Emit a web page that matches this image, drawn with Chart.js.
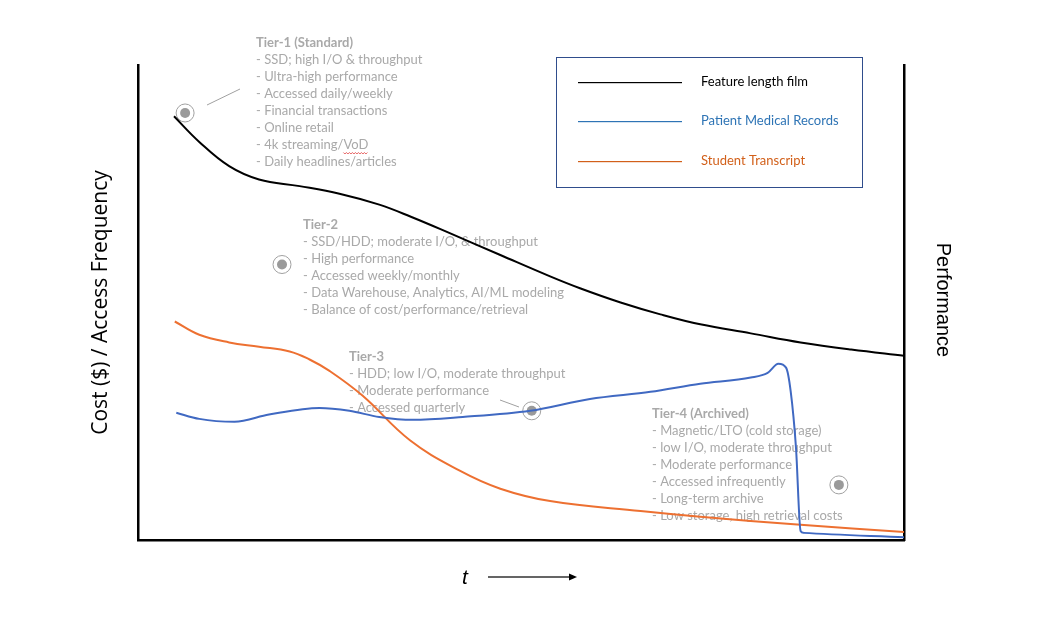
<!DOCTYPE html>
<html>
<head>
<meta charset="utf-8">
<script src="https://cdn.jsdelivr.net/npm/chart.js@4/dist/chart.umd.min.js"></script>
<style>
  html, body { margin: 0; padding: 0; background: #ffffff; }
  #wrap { width: 1046px; height: 629px; position: relative; }
</style>
</head>
<body>
<div id="wrap"><canvas id="c" width="1046" height="629"></canvas></div>
<script>
// ---- Data (x: time 0..100, y: cost / access frequency 0..100) ----
const filmX = [4.7, 8.0, 11.9, 15.8, 21.1, 26.3, 31.5, 35.7, 40.7, 47.3, 53.8, 57.7, 63.0, 68.2, 73.4, 80.0, 86.5, 93.1, 100];
const filmY = [89.2, 83.8, 78.7, 75.9, 74.5, 72.9, 70.6, 68.0, 64.6, 60.0, 55.5, 53.0, 50.0, 47.5, 45.4, 43.5, 41.6, 40.1, 38.8];

const medicalX = [5.0, 8.0, 12.6, 17.1, 23.7, 27.6, 31.5, 35.9, 42.4, 51.2, 59.0, 66.9, 73.4, 80.0, 82.2, 83.6, 84.6, 85.2, 85.9, 86.5, 86.9, 100];
const medicalY = [26.8, 25.5, 24.9, 26.4, 27.8, 27.2, 25.9, 25.3, 25.9, 27.2, 29.7, 31.2, 32.9, 34.2, 35.2, 37.1, 36.3, 31.4, 19.4, 1.9, 1.5, 0.6];

const transcriptX = [4.8, 8.0, 11.9, 15.8, 19.8, 22.4, 25.0, 29.3, 35.5, 42.0, 47.3, 53.8, 65.6, 73.4, 86.5, 100];
const transcriptY = [46.0, 43.2, 41.6, 40.7, 39.7, 38.0, 35.6, 30.4, 21.0, 14.6, 10.8, 8.2, 6.1, 4.9, 3.2, 1.7];

const seriesNames = ['Feature length film', 'Patient Medical Records', 'Student Transcript'];

// Tier marker positions (data units)
const tierMarkX = [6.15, 18.8, 51.4, 91.5];
const tierMarkY = [89.9, 58.0, 27.2, 11.6];

// Tier annotation texts
const tierTitles = ['Tier-1 (Standard)', 'Tier-2', 'Tier-3', 'Tier-4 (Archived)'];
const tierLines = [
  ['- SSD; high I/O & throughput', '- Ultra-high performance', '- Accessed daily/weekly', '- Financial transactions', '- Online retail', '- 4k streaming/VoD', '- Daily headlines/articles'],
  ['- SSD/HDD; moderate I/O, & throughput', '- High performance', '- Accessed weekly/monthly', '- Data Warehouse, Analytics, AI/ML modeling', '- Balance of cost/performance/retrieval'],
  ['- HDD; low I/O, moderate throughput', '- Moderate performance', '- Accessed quarterly'],
  ['- Magnetic/LTO (cold storage)', '- low I/O, moderate throughput', '- Moderate performance', '- Accessed infrequently', '- Long-term archive', '- Low storage, high retrieval costs']
];

const axisTitleLeft = 'Cost ($) / Access Frequency';
const axisTitleRight = 'Performance';
const axisTitleBottom = 't';

// ---- Build datasets ----
const toPts = (xs, ys) => xs.map((x, i) => ({ x: x, y: ys[i] }));

const GREY_TXT = '#a9a9a9';
const FONT = 'Lato, "Open Sans", sans-serif';
const LEGEND_COLORS = ['#000000', '#2e74b5', '#d2601a'];

const annotPlugin = {
  id: 'annot',
  beforeDatasetsDraw(chart) {
    const ctx = chart.ctx;
    ctx.save();
    const pos = [[256, 43], [303, 225], [349, 357], [652, 414]];
    ctx.textBaseline = 'middle';
    ctx.textAlign = 'left';
    pos.forEach((p, i) => {
      ctx.fillStyle = GREY_TXT;
      ctx.font = 'bold 13px ' + FONT;
      ctx.fillText(tierTitles[i], p[0], p[1]);
      ctx.font = '13px ' + FONT;
      tierLines[i].forEach((t, j) => {
        ctx.fillText(t, p[0], p[1] + 17 * (j + 1));
      });
    });
    // red squiggle under VoD
    ctx.font = '13px ' + FONT;
    ctx.strokeStyle = '#e04040';
    ctx.lineWidth = 0.8;
    ctx.beginPath();
    const sx = 256 + ctx.measureText('- 4k streaming/').width;
    const ex = 256 + ctx.measureText('- 4k streaming/VoD').width;
    for (let x = sx, k = 0; x <= ex; x += 1.5, k++) {
      const y = 43 + 17 * 6 + 8 + (k % 2 ? 1 : -0.5);
      if (k === 0) ctx.moveTo(x, y); else ctx.lineTo(x, y);
    }
    ctx.stroke();
    // leader lines
    ctx.strokeStyle = '#a0a0a0';
    ctx.lineWidth = 1;
    ctx.beginPath();
    ctx.moveTo(207, 105); ctx.lineTo(240, 89);
    ctx.moveTo(500, 400); ctx.lineTo(519, 407);
    ctx.stroke();
    ctx.restore();
  },
  afterDraw(chart) {
    const ctx = chart.ctx;
    const a = chart.chartArea;
    ctx.save();
    // legend box
    ctx.strokeStyle = '#2f4d8c';
    ctx.lineWidth = 1;
    ctx.strokeRect(556.5, 57.5, 306, 130);
    const ys = [82, 121, 161];
    ctx.font = '13px ' + FONT;
    ctx.textBaseline = 'middle';
    ctx.textAlign = 'left';
    for (let i = 0; i < ys.length; i++) {
      ctx.fillStyle = LEGEND_COLORS[i];
      ctx.fillRect(578, ys[i], 104, 1.2);
      ctx.fillText(seriesNames[i], 701, ys[i]);
    }
    // axis titles
    ctx.fillStyle = '#000';
    ctx.textAlign = 'center';
    ctx.textBaseline = 'middle';
    ctx.font = '21px "Open Sans", sans-serif';
    ctx.save();
    ctx.translate(101, (a.top + a.bottom) / 2);
    ctx.rotate(-Math.PI / 2);
    ctx.fillText(axisTitleLeft, 0, 0);
    ctx.restore();
    ctx.font = '20px "Liberation Sans", Arial, sans-serif';
    ctx.save();
    ctx.translate(943, 300);
    ctx.rotate(Math.PI / 2);
    ctx.fillText(axisTitleRight, 0, 0);
    ctx.restore();
    ctx.font = 'italic 21px "Liberation Sans", Arial, sans-serif';
    ctx.fillText(axisTitleBottom, 465, 578);
    // arrow
    ctx.fillRect(488, 576.4, 82, 1.2);
    ctx.beginPath();
    ctx.moveTo(577, 577); ctx.lineTo(569, 573.5); ctx.lineTo(569, 580.5); ctx.closePath();
    ctx.fill();
    ctx.restore();
  }
};

const lineDs = (label, xs, ys, color, mono) => ({
  type: 'line',
  label: label,
  data: toPts(xs, ys),
  borderColor: color,
  borderWidth: 2,
  pointRadius: 0,
  fill: false,
  tension: 0.4,
  cubicInterpolationMode: mono ? 'monotone' : 'default',
  clip: false
});

new Chart(document.getElementById('c'), {
  type: 'scatter',
  data: {
    datasets: [
      lineDs(seriesNames[0], filmX, filmY, '#000000', false),
      lineDs(seriesNames[1], medicalX, medicalY, '#4069c2', true),
      lineDs(seriesNames[2], transcriptX, transcriptY, '#ed7031', false),
      {
        label: 'ring',
        data: toPts(tierMarkX, tierMarkY),
        pointRadius: 9,
        pointBorderWidth: 1,
        pointBorderColor: '#a0a0a0',
        pointBackgroundColor: 'rgba(255,255,255,0)',
        showLine: false
      },
      {
        label: 'dot',
        data: toPts(tierMarkX, tierMarkY),
        pointRadius: 5,
        pointBorderWidth: 0,
        pointBackgroundColor: '#9a9a9a',
        showLine: false
      }
    ]
  },
  options: {
    responsive: false,
    animation: false,
    events: [],
    layout: { padding: { left: 138, right: 142, top: 65, bottom: 89 } },
    plugins: { legend: { display: false }, tooltip: { enabled: false } },
    scales: {
      x: {
        type: 'linear', min: 0, max: 100, position: 'bottom',
        ticks: { display: false },
        grid: { display: false, drawTicks: false, tickLength: 0 },
        border: { display: true, color: '#000', width: 2.5 }
      },
      y: {
        type: 'linear', min: 0, max: 100, position: 'left',
        ticks: { display: false },
        grid: { display: false, drawTicks: false, tickLength: 0 },
        border: { display: true, color: '#000', width: 2.5 }
      },
      y2: {
        type: 'linear', min: 0, max: 100, position: 'right',
        ticks: { display: false },
        grid: { display: false, drawTicks: false, tickLength: 0 },
        border: { display: true, color: '#000', width: 2.5 }
      }
    }
  },
  plugins: [annotPlugin]
});
</script>
</body>
</html>
